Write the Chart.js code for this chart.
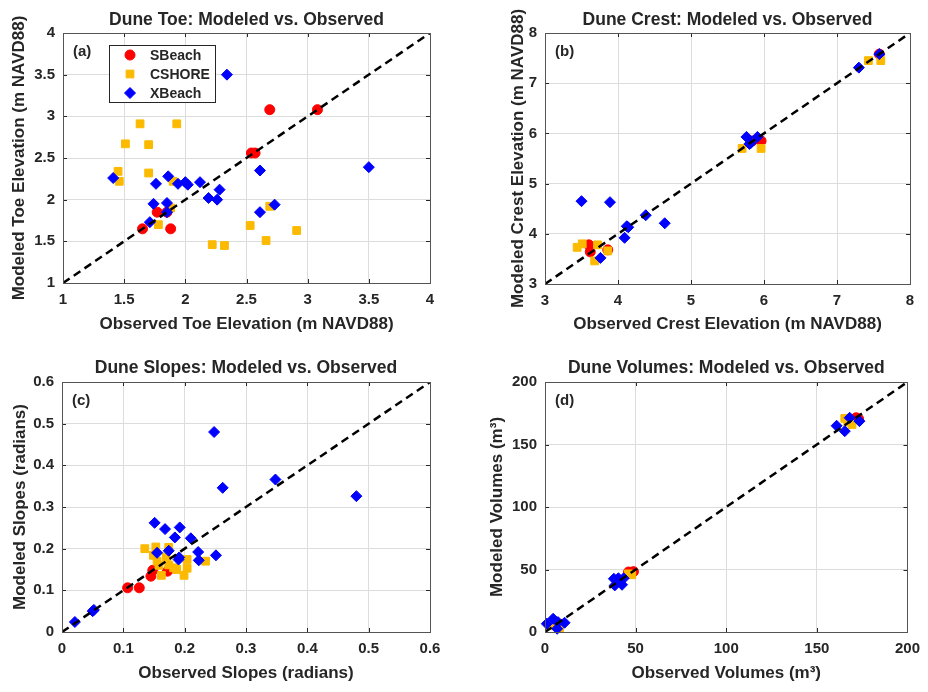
<!DOCTYPE html>
<html>
<head>
<meta charset="utf-8">
<script src="https://cdn.jsdelivr.net/npm/chart.js@4.4.0/dist/chart.umd.min.js"></script>
<style>
  body { margin: 0; background: #fff; }
  #wrap { position: relative; width: 928px; height: 692px; }
  .panel { position: absolute; width: 464px; height: 346px; }
</style>
</head>
<body>
<div id="wrap">
  <div class="panel" style="left:0;top:0"><canvas id="toe" width="464" height="346"></canvas></div>
  <div class="panel" style="left:464px;top:0"><canvas id="crest" width="464" height="346"></canvas></div>
  <div class="panel" style="left:0;top:346px"><canvas id="slope" width="464" height="346"></canvas></div>
  <div class="panel" style="left:464px;top:346px"><canvas id="vol" width="464" height="346"></canvas></div>
</div>
<script>
// [observed, modeled] pairs
const toeSBeach = [[2.69,3.08],[3.08,3.08],[2.54,2.56],[2.57,2.56],[1.77,1.85],[1.65,1.65],[1.88,1.65],[1.85,1.85]];
const toeCshore = [[1.63,2.91],[1.93,2.91],[1.51,2.67],[1.70,2.66],[1.45,2.34],[1.46,2.22],[1.70,2.32],[1.90,2.22],
  [1.88,1.90],[1.78,1.70],[2.22,1.46],[2.32,1.45],[2.53,1.69],[2.66,1.51],[2.69,1.92],[2.91,1.63]];
const toeXBeach = [[2.34,3.50],[3.50,2.39],[1.41,2.26],[1.76,2.19],[1.86,2.28],[1.94,2.19],[2.00,2.21],[2.02,2.18],
  [2.12,2.21],[2.28,2.12],[2.19,2.02],[2.26,2.00],[2.61,2.35],[2.73,1.94],[2.61,1.85],[1.74,1.95],[1.85,1.96],[1.85,1.85],[1.71,1.73]];

const crestSBeach = [[3.60,3.78],[3.62,3.64],[3.86,3.68],[5.84,5.85],[5.96,5.85],[7.58,7.58]];
const crestCshore = [[3.44,3.73],[3.51,3.80],[3.72,3.78],[3.68,3.46],[3.86,3.66],[5.70,5.70],[5.96,5.70],[7.43,7.45],[7.60,7.45]];
const crestXBeach = [[3.50,4.65],[3.89,4.63],[4.14,4.13],[4.12,4.15],[4.09,3.92],[4.38,4.37],[4.64,4.21],[3.76,3.52],
  [5.76,5.93],[5.80,5.79],[5.82,5.81],[5.91,5.93],[7.30,7.31],[7.58,7.58]];

const slopeSBeach = [[0.107,0.106],[0.126,0.106],[0.145,0.134],[0.148,0.148],[0.172,0.146]];
const slopeCshore = [[0.135,0.200],[0.153,0.204],[0.149,0.184],[0.174,0.203],[0.170,0.180],[0.158,0.160],[0.162,0.136],
  [0.174,0.161],[0.182,0.154],[0.187,0.150],[0.199,0.136],[0.204,0.174],[0.204,0.153],[0.234,0.170],[0.155,0.170]];
const slopeXBeach = [[0.248,0.480],[0.262,0.346],[0.348,0.366],[0.480,0.326],[0.151,0.262],[0.168,0.247],[0.192,0.251],
  [0.184,0.227],[0.210,0.225],[0.155,0.190],[0.174,0.195],[0.190,0.174],[0.191,0.179],[0.222,0.192],[0.223,0.172],
  [0.251,0.184],[0.021,0.024],[0.050,0.050],[0.052,0.053]];

const volSBeach = [[171.7,171.4],[173,170.5],[46.1,48],[48.8,48.3],[6,8]];
const volCshore = [[165.4,170.9],[169.4,166],[167,168],[47.9,45.8],[46,46.5],[5,5],[8,3]];
const volXBeach = [[160.9,165],[165.4,160.7],[168.1,171.4],[173.5,168.7],[38,42.6],[40.5,43],[43.4,43],[38.5,37.3],
  [42.5,37.8],[1,6.6],[4.5,10.6],[7.2,7.9],[6.7,2.6],[10.8,7.4]];

const seriesNames = ["SBeach", "CSHORE", "XBeach"];
const RED = "#ff0000", GOLD = "#fbba00", BLUE = "#0000ff", INK = "#262626";
const FONT = '"Liberation Sans", Arial, sans-serif';

const toPts = (arr) => arr.map((p) => ({ x: p[0], y: p[1] }));
const fmt = (v) => String(Number(v.toFixed(3))); // 1, 1.5, 2 ... like matlab

// box, inner ticks, title, panel letter and legend, matlab style
const deco = {
  id: "deco",
  afterDraw(chart, args, o) {
    const { ctx, chartArea: a, scales } = chart;
    ctx.save();
    ctx.strokeStyle = INK;
    ctx.lineWidth = 1;
    ctx.beginPath();
    scales.x.ticks.forEach((t) => {
      const px = Math.round(scales.x.getPixelForValue(t.value)) + 0.5;
      ctx.moveTo(px, a.bottom); ctx.lineTo(px, a.bottom - 4);
      ctx.moveTo(px, a.top); ctx.lineTo(px, a.top + 4);
    });
    scales.y.ticks.forEach((t) => {
      const py = Math.round(scales.y.getPixelForValue(t.value)) + 0.5;
      ctx.moveTo(a.left, py); ctx.lineTo(a.left + 4, py);
      ctx.moveTo(a.right, py); ctx.lineTo(a.right - 4, py);
    });
    ctx.stroke();
    ctx.strokeStyle = "#555";
    ctx.strokeRect(Math.round(a.left) + 0.5, Math.round(a.top) + 0.5, Math.round(a.right - a.left), Math.round(a.bottom - a.top));

    ctx.fillStyle = INK;
    ctx.textBaseline = "middle";
    ctx.textAlign = "center";
    ctx.font = "bold 17.5px " + FONT;
    ctx.fillText(o.title, (a.left + a.right) / 2, o.titleY);
    ctx.textAlign = "left";
    ctx.font = "bold 15px " + FONT;
    ctx.fillText(o.letter, a.left + 10, a.top + 19);

    if (o.legend) {
      const bx = a.left + 46, by = a.top + 12;
      ctx.fillStyle = "#fff";
      ctx.fillRect(bx, by, 106, 57);
      ctx.strokeStyle = INK;
      ctx.strokeRect(bx + 0.5, by + 0.5, 106, 57);
      ctx.font = "bold 14px " + FONT;
      seriesNames.forEach((name, i) => {
        const ds = chart.data.datasets.find((d) => d.label === name);
        const y = by + 10 + i * 19;
        ctx.fillStyle = ds.backgroundColor;
        ctx.strokeStyle = ds.borderColor;
        Chart.helpers.drawPoint(ctx, { pointStyle: ds.pointStyle, radius: ds.pointRadius, borderWidth: 1, rotation: 0 }, bx + 21, y);
        ctx.fillStyle = INK;
        ctx.fillText(name, bx + 41, y + 1);
      });
    }
    ctx.restore();
  },
};

function makePanel(id, p) {
  const tickFont = { family: FONT, size: 15, weight: "bold" };
  const titleFont = { family: FONT, size: 17, weight: "bold" };
  new Chart(document.getElementById(id), {
    type: "scatter",
    data: {
      datasets: [
        { type: "line", label: "1:1", data: [{ x: p.range[0], y: p.range[0] }, { x: p.range[1], y: p.range[1] }],
          borderColor: "#000", borderWidth: 2.5, borderDash: [8, 5], pointRadius: 0, order: 0 },
        { label: "XBeach", data: toPts(p.xb), pointStyle: "rectRot", pointRadius: 5.5,
          backgroundColor: BLUE, borderColor: BLUE, borderWidth: 1, clip: false, order: 1 },
        { label: "CSHORE", data: toPts(p.cs), pointStyle: "rect", pointRadius: 5.5,
          backgroundColor: GOLD, borderColor: GOLD, borderWidth: 1, clip: false, order: 2 },
        { label: "SBeach", data: toPts(p.sb), pointStyle: "circle", pointRadius: 5,
          backgroundColor: RED, borderColor: RED, borderWidth: 1, clip: false, order: 3 },
      ],
    },
    options: {
      responsive: false,
      animation: false,
      events: [],
      layout: { padding: { left: 0, top: p.top, right: p.right, bottom: 0 } },
      plugins: {
        legend: { display: false },
        tooltip: { enabled: false },
        deco: { title: p.title, titleY: p.titleY, letter: p.letter, legend: p.legend },
      },
      scales: {
        x: {
          type: "linear", min: p.range[0], max: p.range[1],
          ticks: { stepSize: p.step, font: tickFont, color: INK, padding: 8, maxRotation: 0, callback: fmt },
          grid: { color: "#dcdcdc", drawTicks: false },
          border: { display: false },
          title: { display: true, text: p.xlabel, font: titleFont, color: INK, padding: { top: 0, bottom: p.xPad } },
          afterFit(s) { s.height = p.xh; },
        },
        y: {
          type: "linear", min: p.range[0], max: p.range[1],
          ticks: { stepSize: p.step, font: tickFont, color: INK, padding: 8, callback: fmt },
          grid: { color: "#dcdcdc", drawTicks: false },
          border: { display: false },
          title: { display: true, text: p.ylabel, font: titleFont, color: INK, padding: { top: p.yPad, bottom: 0 } },
          afterFit(s) { s.width = p.yw; },
        },
      },
    },
    plugins: [deco],
  });
}

makePanel("toe", {
  title: "Dune Toe: Modeled vs. Observed", letter: "(a)", legend: true,
  xlabel: "Observed Toe Elevation (m NAVD88)", ylabel: "Modeled Toe Elevation (m NAVD88)",
  range: [1, 4], step: 0.5, sb: toeSBeach, cs: toeCshore, xb: toeXBeach,
  top: 33, right: 34, yw: 63, xh: 63, titleY: 20, xPad: 11, yPad: 9,
});
makePanel("crest", {
  title: "Dune Crest: Modeled vs. Observed", letter: "(b)",
  xlabel: "Observed Crest Elevation (m NAVD88)", ylabel: "Modeled Crest Elevation (m NAVD88)",
  range: [3, 8], step: 1, sb: crestSBeach, cs: crestCshore, xb: crestXBeach,
  top: 33, right: 18, yw: 81, xh: 62, titleY: 20, xPad: 11, yPad: 44,
});
makePanel("slope", {
  title: "Dune Slopes: Modeled vs. Observed", letter: "(c)",
  xlabel: "Observed Slopes (radians)", ylabel: "Modeled Slopes (radians)",
  range: [0, 0.6], step: 0.1, sb: slopeSBeach, cs: slopeCshore, xb: slopeXBeach,
  top: 36, right: 34, yw: 62, xh: 60, titleY: 22, xPad: 8, yPad: 10,
});
makePanel("vol", {
  title: "Dune Volumes: Modeled vs. Observed", letter: "(d)",
  xlabel: "Observed Volumes (m³)", ylabel: "Modeled Volumes (m³)",
  range: [0, 200], step: 50, sb: volSBeach, cs: volCshore, xb: volXBeach,
  top: 36, right: 18, yw: 81, xh: 60, titleY: 22, xPad: 8, yPad: 23,
});
</script>
</body>
</html>
